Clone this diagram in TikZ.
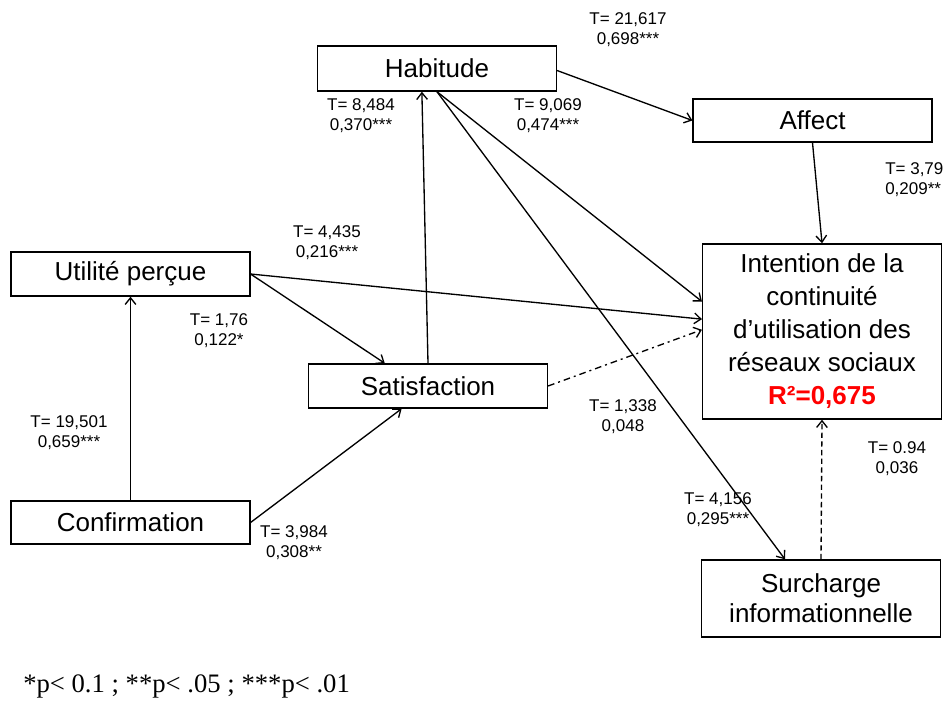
\documentclass[tikz,border=0pt]{standalone}
\usepackage{fontspec}
\usepackage{xcolor}
\setmainfont{Liberation Sans}
\newfontfamily\notefont{Liberation Serif}
\usetikzlibrary{arrows.meta,calc}
\definecolor{RsqRed}{HTML}{FF0000}
\newcommand{\nodefont}{\fontsize{19.5}{24.75}\selectfont}
\newcommand{\coeffont}{\fontsize{12.75}{15}\selectfont}

\begin{document}
\begin{tikzpicture}[x=0.75pt,y=-0.75pt,
    var/.style={draw, line width=1.1pt, minimum width=179pt, inner sep=0pt, font=\nodefont, align=center},
    coef/.style={font=\coeffont, align=center, inner sep=0pt},
    link/.style={-{Straight Barb[length=5pt,width=8pt]}, line width=1pt},
    weak/.style={link, dash pattern=on 4pt off 2.5pt},
    weakdot/.style={link, dash pattern=on 5pt off 3pt on 1.5pt off 3pt}]
    \useasboundingbox (0,0) rectangle (944,701);
    \clip (0,0) rectangle (944,701);

    % constructs
    \node[var, minimum height=33.75pt] (hab) at (437,68.5) {Habitude};
    \node[var, minimum height=32.25pt] (aff) at (812.5,120.5) {Affect};
    \node[var, minimum height=131.25pt] (int) at (822,331.5)
        {Intention de la\\continuité\\d’utilisation des\\réseaux sociaux\\{\color{RsqRed}\bfseries R²=0,675}};
    \node[var, minimum height=33pt] (util) at (130.5,274) {Utilité perçue};
    \node[var, minimum height=32.25pt] (conf) at (130.5,522.5) {Confirmation};
    \node[var, minimum height=33pt] (sat) at (428,386) {Satisfaction};
    \node[var, minimum height=57.75pt] (sur) at (821,598.5) {Surcharge\\[-2.25pt]informationnelle};

    % paths
    \draw[link] (conf.north) -- (util.south);
    \draw[link] (util.east) -- ($(sat.north west)!0.32!(sat.north east)$);
    \draw[link] (conf.east) -- ($(sat.south west)!0.39!(sat.south east)$);
    \draw[link] (sat.north) -- ($(hab.south west)!0.437!(hab.south east)$);
    \draw[link] (hab.south) -- ($(int.north west)!0.33!(int.south west)$);
    \draw[link] (hab.south) -- ($(sur.north west)!0.35!(sur.north east)$);
    \draw[link] ([yshift=-1.5pt]hab.east) -- (aff.west);
    \draw[link] (aff.south) -- (int.north);
    \draw[link] (util.east) -- ($(int.north west)!0.43!(int.south west)$);
    \draw[weakdot] (sat.east) -- ($(int.north west)!0.49!(int.south west)$);
    \draw[weak] (sur.north) -- (int.south);

    % coefficients
    \node[coef] (c1) at (628,29.5) {T= 21,617\\0,698***};
    \node[coef] (c2) at (361,115.5) {T= 8,484\\0,370***};
    \node[coef] (c3) at (548,115.5) {T= 9,069\\0,474***};
    \node[coef, anchor=west, align=left] (c4) at (885,180) {T= 3,79\\0,209**};
    \node[coef] (c5) at (327,243) {T= 4,435\\0,216***};
    \node[coef] (c6) at (219,330.5) {T= 1,76\\0,122*};
    \node[coef] (c7) at (69,433) {T= 19,501\\0,659***};
    \node[coef] (c8) at (294,543) {T= 3,984\\0,308**};
    \node[coef] (c9) at (623,416.5) {T= 1,338\\0,048};
    \node[coef] (c10) at (718,510) {T= 4,156\\0,295***};
    \node[coef] (c11) at (897,459) {T= 0.94\\0,036};

    \node[anchor=base west, inner sep=0pt, font=\notefont\fontsize{20}{24}\selectfont] (note) at (23,692)
        {*p< 0.1 ; **p< .05 ; ***p< .01};
\end{tikzpicture}
\end{document}
